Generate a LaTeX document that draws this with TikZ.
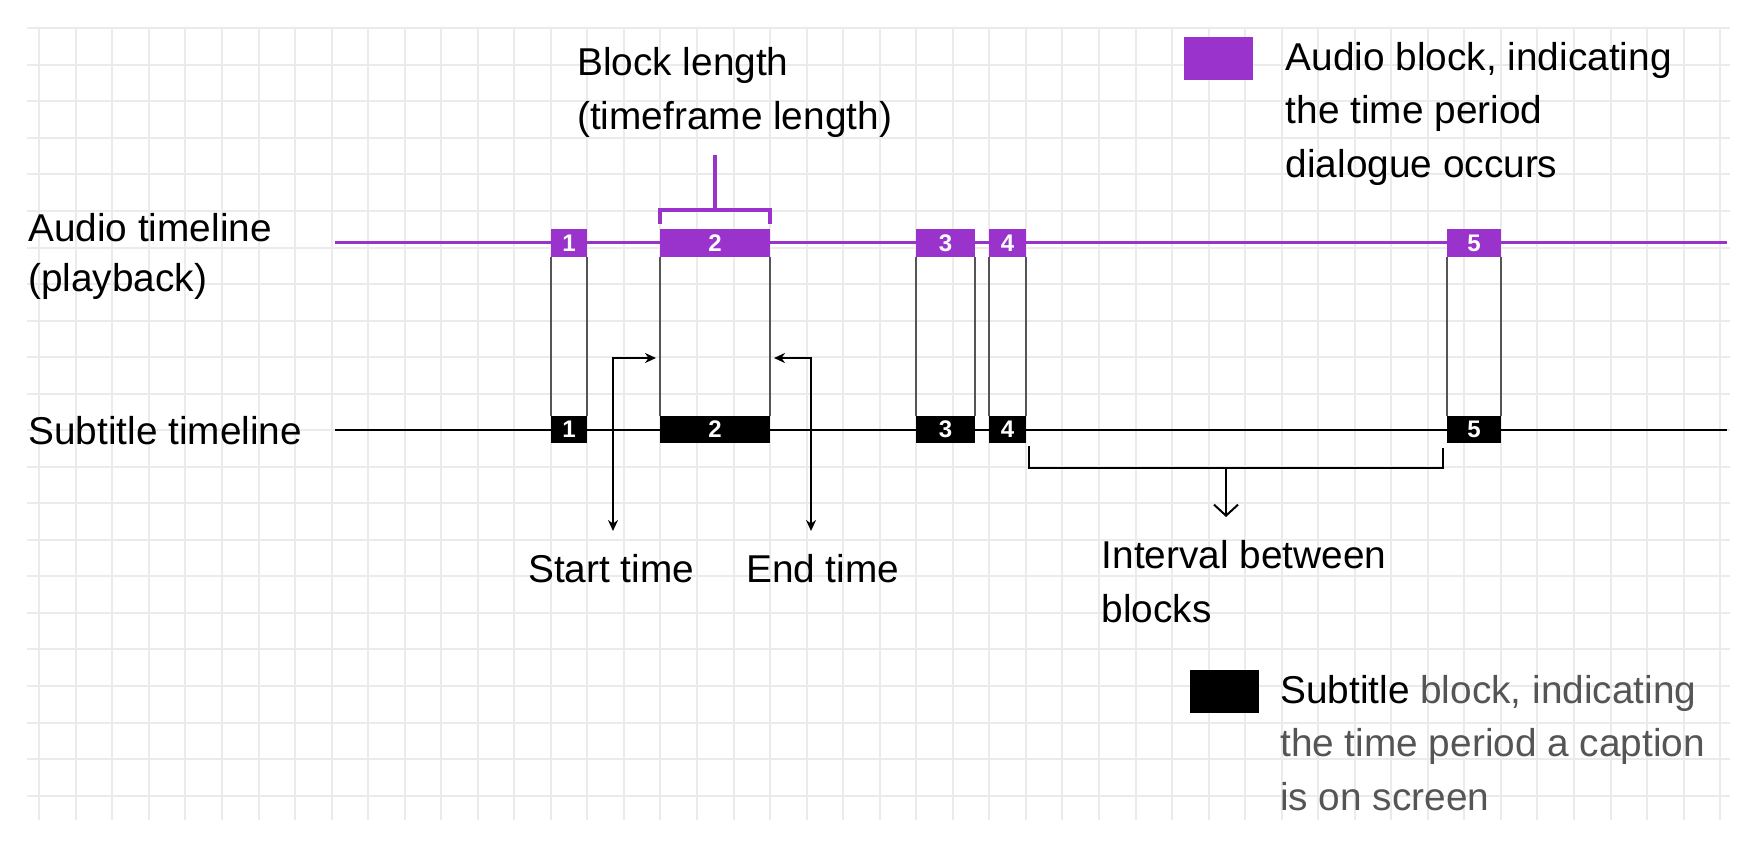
\documentclass[tikz,border=0pt]{standalone}
\usepackage{fontspec}
\setmainfont{Liberation Sans}
\usetikzlibrary{arrows.meta}
\definecolor{apurple}{RGB}{153,51,204}
\definecolor{gridc}{RGB}{235,235,235}
\definecolor{frameg}{RGB}{85,85,85}
\definecolor{txtg}{RGB}{85,85,85}
\begin{document}
\begin{tikzpicture}[x=1pt,y=-1pt,
  gridline/.style={draw=gridc, line width=2pt},
  audioline/.style={draw=apurple, line width=3pt},
  subline/.style={draw=black, line width=2.5pt},
  ahead/.style={fill=apurple, text=white, inner sep=0pt, minimum height=28pt, font=\fontsize{24}{24}\selectfont\bfseries},
  shead/.style={fill=black, text=white, inner sep=0pt, minimum height=27pt, font=\fontsize{24}{24}\selectfont\bfseries},
  blkframe/.style={draw=frameg, line width=1.5pt},
  bracketp/.style={draw=apurple, line width=3.5pt},
  conn/.style={draw=black, line width=2pt},
  lbl/.style={inner sep=0pt, anchor=base west, align=left, font=\fontsize{38.8}{53.5}\selectfont},
  legbox/.style={minimum width=69pt, minimum height=43pt, inner sep=0pt}
]
\useasboundingbox (0,0) rectangle (1750,847);
\fill[white] (0,0) rectangle (1750,847);
% grid
\foreach \k in {0,...,46}
  \draw[gridline] ({39.3+36.54*\k},28.3) -- ({39.3+36.54*\k},820);
\foreach \k in {0,...,21}
  \draw[gridline] (27,{28.3+36.54*\k}) -- (1730,{28.3+36.54*\k});
% timelines
\coordinate (a0) at (335,242);
\coordinate (a1) at (1727,242);
\coordinate (s0) at (335,430);
\coordinate (s1) at (1727,430);
\draw[audioline] (a0) -- (a1);
\draw[subline] (s0) -- (s1);
% blocks
\foreach \i/\x/\w in {1/569/36, 2/715/110, 3/945.5/59, 4/1007.5/37, 5/1474/54} {
  \node[ahead, minimum width=\w pt] (A\i) at (\x,243) {\i};
  \node[shead, minimum width=\w pt] (S\i) at (\x,429.5) {\i};
  \draw[blkframe] (A\i.south west) -- (S\i.north west)
                  (A\i.south east) -- (S\i.north east);
}
% block length bracket
\coordinate (bl0) at (715,155);
\coordinate (bl1) at (715,210);
\draw[bracketp] ([yshift=5pt]A2.north west) -- ++(0,-14) -| ([yshift=5pt]A2.north east);
\draw[bracketp] (bl1) -- (bl0);
\node[lbl] (tBlock) at (577,129) {Block length\\(timeframe length)};
% start / end time arrows
\coordinate (st0) at (613,531);
\coordinate (st1) at (656,358);
\coordinate (et0) at (811,531);
\coordinate (et1) at (774,358);
\draw[conn, {Stealth[length=11pt,width=10pt]}-{Stealth[length=11pt,width=10pt]}] (st0) |- (st1);
\draw[conn, {Stealth[length=11pt,width=10pt]}-{Stealth[length=11pt,width=10pt]}] (et0) |- (et1);
\node[lbl] (tStart) at (528,582) {Start time};
\node[lbl] (tEnd) at (746,582) {End time};
% interval bracket
\coordinate (iv0) at (1029,446);
\coordinate (iv1) at (1443,448);
\coordinate (iv2) at (1226,468);
\coordinate (iv3) at (1226,517);
\draw[conn] (iv0) |- (iv2) -| (iv1);
\draw[conn, -{Straight Barb[length=11pt,width=24pt]}] (iv2) -- (iv3);
\node[lbl] (tInterval) at (1101.5,622) {Interval between\\blocks};
% row labels
\node[lbl, font=\fontsize{38.8}{50}\selectfont] (tAudio) at (28,291) {Audio timeline\\(playback)};
\node[lbl] (tSub) at (28,444) {Subtitle timeline};
% legend
\node[legbox, fill=apurple] (legA) at (1218.5,58.5) {};
\node[lbl] (tLegA) at (1285.5,177) {Audio block, indicating\\the time period\\dialogue occurs};
\node[legbox, fill=black] (legS) at (1224.5,691.5) {};
\node[lbl, text=txtg] (tLegS) at (1280,810) {\textcolor{black}{Subtitle} block, indicating\\the time period a caption\\is on screen};
\end{tikzpicture}
\end{document}
